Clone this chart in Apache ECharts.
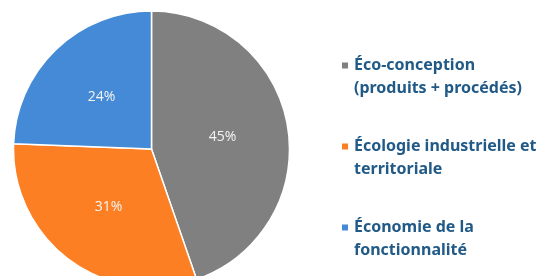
<!DOCTYPE html>
<html>
<head>
<meta charset="utf-8">
<script src="https://cdn.jsdelivr.net/npm/echarts@6/dist/echarts.min.js"></script>
<style>
  html, body { margin: 0; padding: 0; background: #fff; }
  #chart { width: 541px; height: 276px; }
</style>
</head>
<body>
<div id="chart"></div>
<script>
// données du camembert
var categories = ['Éco-conception (produits + procédés)', 'Écologie industrielle et territoriale', 'Économie de la fonctionnalité'];
var legendLines = ['Éco-conception\n(produits + procédés)', 'Écologie industrielle et\nterritoriale', 'Économie de la\nfonctionnalité'];
var values = [44.7, 30.9, 24.4];
var colors = ['#808080', '#fd7f23', '#448ad6'];

var myChart = echarts.init(document.getElementById('chart'));

var pieData = [];
for (var i = 0; i < categories.length; i++) {
    pieData.push({ name: categories[i], value: values[i] });
}

var option = {
    color: colors,
    animation: false,
    legend: {
        orient: 'vertical',
        left: 335,
        top: 26,
        icon: 'rect',
        itemWidth: 8,
        itemHeight: 8,
        itemGap: 12,
        data: categories,
        // ligne vide en tete pour caler le carre sur la 1ere ligne
        formatter: function (name) {
            return '\n' + legendLines[categories.indexOf(name)];
        },
        textStyle: {
            fontFamily: 'Noto Sans',
            fontWeight: 'bold',
            fontSize: 16,
            lineHeight: 23,
            color: '#215a87'
        }
    },
    series: [{
        name: 'Répartition',
        type: 'pie',
        center: [151.5, 149],
        radius: 138,
        startAngle: 90,
        clockwise: true,
        percentPrecision: 0,
        data: pieData,
        itemStyle: {
            borderColor: '#ffffff',
            borderWidth: 1.5
        },
        label: {
            position: 'inside',
            formatter: '{d}%',
            fontFamily: 'Open Sans',
            fontSize: 14,
            color: '#f4f4f4'
        },
        labelLine: { show: false }
    }]
};

myChart.setOption(option);
</script>
</body>
</html>
